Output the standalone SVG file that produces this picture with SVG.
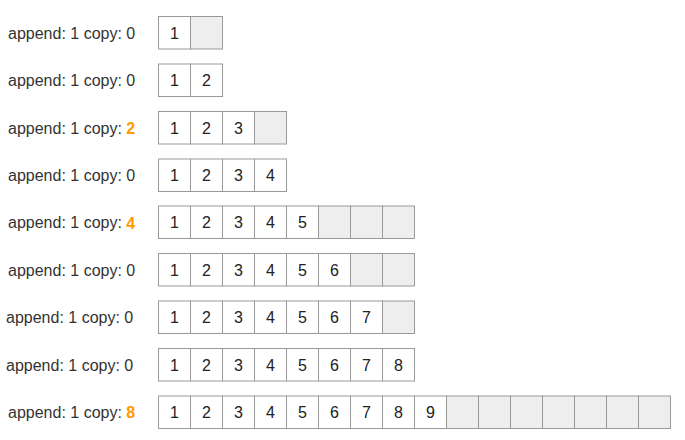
<svg xmlns="http://www.w3.org/2000/svg" width="685" height="440" viewBox="0 0 685 440">
<style>
.lbl{font-family:"Liberation Sans",Arial,sans-serif;font-size:16px;fill:#333;dominant-baseline:central}
.num{font-family:"Liberation Sans",Arial,sans-serif;font-size:16px;fill:#222;text-anchor:middle;dominant-baseline:central}
.hl{fill:#ff9900;font-weight:bold}
.c{fill:#fff;stroke:#999;stroke-width:1}
.e{fill:#eeeeee;stroke:#999;stroke-width:1}
</style>
<rect width="685" height="440" fill="#fff"/>
<g id="row1">
<text class="lbl" x="8" y="33">append: 1 copy: 0</text>
<rect class="c" x="158.5" y="16.5" width="32" height="32.5"/><text class="num" x="174.5" y="33">1</text>
<rect class="e" x="190.5" y="16.5" width="32" height="32.5"/>
</g>
<g id="row2">
<text class="lbl" x="8" y="80.5">append: 1 copy: 0</text>
<rect class="c" x="158.5" y="64" width="32" height="32.5"/><text class="num" x="174.5" y="80.5">1</text>
<rect class="c" x="190.5" y="64" width="32" height="32.5"/><text class="num" x="206.5" y="80.5">2</text>
</g>
<g id="row3">
<text class="lbl" x="8" y="128">append: 1 copy: <tspan class="hl">2</tspan></text>
<rect class="c" x="158.5" y="111.5" width="32" height="32.5"/><text class="num" x="174.5" y="128">1</text>
<rect class="c" x="190.5" y="111.5" width="32" height="32.5"/><text class="num" x="206.5" y="128">2</text>
<rect class="c" x="222.5" y="111.5" width="32" height="32.5"/><text class="num" x="238.5" y="128">3</text>
<rect class="e" x="254.5" y="111.5" width="32" height="32.5"/>
</g>
<g id="row4">
<text class="lbl" x="8" y="175.5">append: 1 copy: 0</text>
<rect class="c" x="158.5" y="159" width="32" height="32.5"/><text class="num" x="174.5" y="175.5">1</text>
<rect class="c" x="190.5" y="159" width="32" height="32.5"/><text class="num" x="206.5" y="175.5">2</text>
<rect class="c" x="222.5" y="159" width="32" height="32.5"/><text class="num" x="238.5" y="175.5">3</text>
<rect class="c" x="254.5" y="159" width="32" height="32.5"/><text class="num" x="270.5" y="175.5">4</text>
</g>
<g id="row5">
<text class="lbl" x="8" y="222.5">append: 1 copy: <tspan class="hl">4</tspan></text>
<rect class="c" x="158.5" y="206" width="32" height="32.5"/><text class="num" x="174.5" y="222.5">1</text>
<rect class="c" x="190.5" y="206" width="32" height="32.5"/><text class="num" x="206.5" y="222.5">2</text>
<rect class="c" x="222.5" y="206" width="32" height="32.5"/><text class="num" x="238.5" y="222.5">3</text>
<rect class="c" x="254.5" y="206" width="32" height="32.5"/><text class="num" x="270.5" y="222.5">4</text>
<rect class="c" x="286.5" y="206" width="32" height="32.5"/><text class="num" x="302.5" y="222.5">5</text>
<rect class="e" x="318.5" y="206" width="32" height="32.5"/>
<rect class="e" x="350.5" y="206" width="32" height="32.5"/>
<rect class="e" x="382.5" y="206" width="32" height="32.5"/>
</g>
<g id="row6">
<text class="lbl" x="8" y="270">append: 1 copy: 0</text>
<rect class="c" x="158.5" y="253.5" width="32" height="32.5"/><text class="num" x="174.5" y="270">1</text>
<rect class="c" x="190.5" y="253.5" width="32" height="32.5"/><text class="num" x="206.5" y="270">2</text>
<rect class="c" x="222.5" y="253.5" width="32" height="32.5"/><text class="num" x="238.5" y="270">3</text>
<rect class="c" x="254.5" y="253.5" width="32" height="32.5"/><text class="num" x="270.5" y="270">4</text>
<rect class="c" x="286.5" y="253.5" width="32" height="32.5"/><text class="num" x="302.5" y="270">5</text>
<rect class="c" x="318.5" y="253.5" width="32" height="32.5"/><text class="num" x="334.5" y="270">6</text>
<rect class="e" x="350.5" y="253.5" width="32" height="32.5"/>
<rect class="e" x="382.5" y="253.5" width="32" height="32.5"/>
</g>
<g id="row7">
<text class="lbl" x="6" y="317.5">append: 1 copy: 0</text>
<rect class="c" x="158.5" y="301" width="32" height="32.5"/><text class="num" x="174.5" y="317.5">1</text>
<rect class="c" x="190.5" y="301" width="32" height="32.5"/><text class="num" x="206.5" y="317.5">2</text>
<rect class="c" x="222.5" y="301" width="32" height="32.5"/><text class="num" x="238.5" y="317.5">3</text>
<rect class="c" x="254.5" y="301" width="32" height="32.5"/><text class="num" x="270.5" y="317.5">4</text>
<rect class="c" x="286.5" y="301" width="32" height="32.5"/><text class="num" x="302.5" y="317.5">5</text>
<rect class="c" x="318.5" y="301" width="32" height="32.5"/><text class="num" x="334.5" y="317.5">6</text>
<rect class="c" x="350.5" y="301" width="32" height="32.5"/><text class="num" x="366.5" y="317.5">7</text>
<rect class="e" x="382.5" y="301" width="32" height="32.5"/>
</g>
<g id="row8">
<text class="lbl" x="6" y="365">append: 1 copy: 0</text>
<rect class="c" x="158.5" y="348.5" width="32" height="32.5"/><text class="num" x="174.5" y="365">1</text>
<rect class="c" x="190.5" y="348.5" width="32" height="32.5"/><text class="num" x="206.5" y="365">2</text>
<rect class="c" x="222.5" y="348.5" width="32" height="32.5"/><text class="num" x="238.5" y="365">3</text>
<rect class="c" x="254.5" y="348.5" width="32" height="32.5"/><text class="num" x="270.5" y="365">4</text>
<rect class="c" x="286.5" y="348.5" width="32" height="32.5"/><text class="num" x="302.5" y="365">5</text>
<rect class="c" x="318.5" y="348.5" width="32" height="32.5"/><text class="num" x="334.5" y="365">6</text>
<rect class="c" x="350.5" y="348.5" width="32" height="32.5"/><text class="num" x="366.5" y="365">7</text>
<rect class="c" x="382.5" y="348.5" width="32" height="32.5"/><text class="num" x="398.5" y="365">8</text>
</g>
<g id="row9">
<text class="lbl" x="8" y="412">append: 1 copy: <tspan class="hl">8</tspan></text>
<rect class="c" x="158.5" y="396" width="32" height="32.5"/><text class="num" x="174.5" y="412">1</text>
<rect class="c" x="190.5" y="396" width="32" height="32.5"/><text class="num" x="206.5" y="412">2</text>
<rect class="c" x="222.5" y="396" width="32" height="32.5"/><text class="num" x="238.5" y="412">3</text>
<rect class="c" x="254.5" y="396" width="32" height="32.5"/><text class="num" x="270.5" y="412">4</text>
<rect class="c" x="286.5" y="396" width="32" height="32.5"/><text class="num" x="302.5" y="412">5</text>
<rect class="c" x="318.5" y="396" width="32" height="32.5"/><text class="num" x="334.5" y="412">6</text>
<rect class="c" x="350.5" y="396" width="32" height="32.5"/><text class="num" x="366.5" y="412">7</text>
<rect class="c" x="382.5" y="396" width="32" height="32.5"/><text class="num" x="398.5" y="412">8</text>
<rect class="c" x="414.5" y="396" width="32" height="32.5"/><text class="num" x="430.5" y="412">9</text>
<rect class="e" x="446.5" y="396" width="32" height="32.5"/>
<rect class="e" x="478.5" y="396" width="32" height="32.5"/>
<rect class="e" x="510.5" y="396" width="32" height="32.5"/>
<rect class="e" x="542.5" y="396" width="32" height="32.5"/>
<rect class="e" x="574.5" y="396" width="32" height="32.5"/>
<rect class="e" x="606.5" y="396" width="32" height="32.5"/>
<rect class="e" x="638.5" y="396" width="32" height="32.5"/>
</g>
</svg>
